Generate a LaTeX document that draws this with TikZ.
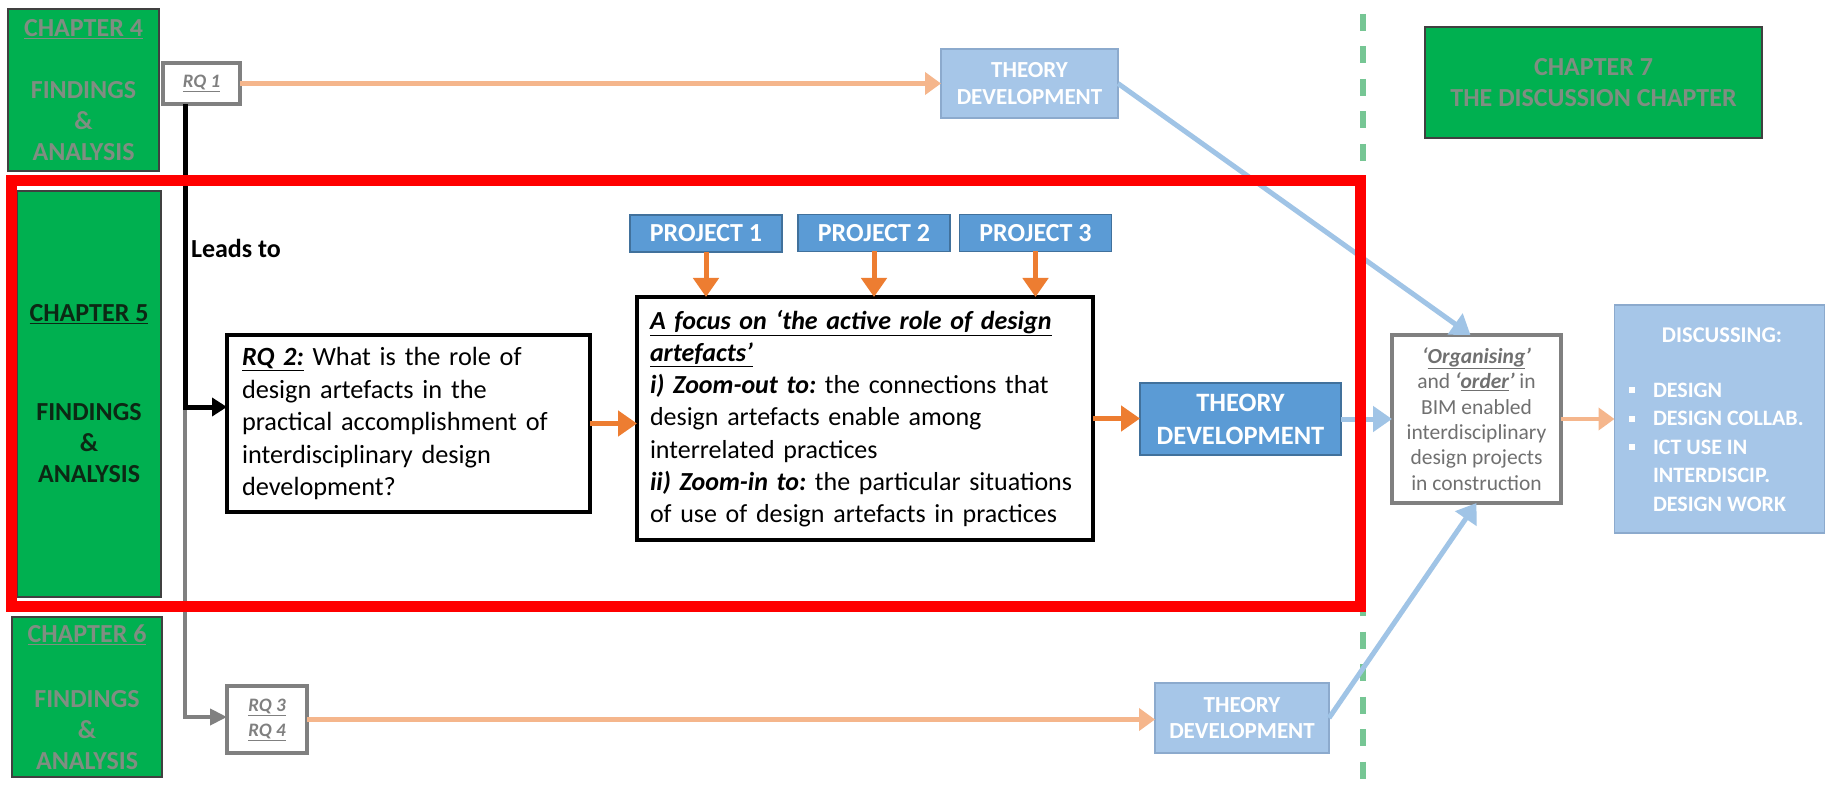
\documentclass[tikz,border=0pt]{standalone}
\usepackage{fontspec}
\setmainfont{Carlito}
\usetikzlibrary{arrows.meta}
\frenchspacing

\definecolor{chgreen}{HTML}{00B050}
\definecolor{fadetext}{RGB}{128,142,130}
\definecolor{chdark}{RGB}{12,40,20}
\definecolor{frame}{HTML}{FF0000}
\definecolor{projblue}{HTML}{5B9BD5}
\definecolor{projedge}{HTML}{41719C}
\definecolor{paleblue}{RGB}{166,198,232}
\definecolor{paleedge}{RGB}{140,170,205}
\definecolor{palearrow}{RGB}{160,196,230}
\definecolor{accent}{HTML}{ED7D31}
\definecolor{paleaccent}{RGB}{245,182,140}
\definecolor{rqgray}{RGB}{128,128,128}
\definecolor{orgtext}{RGB}{112,112,112}
\definecolor{divider}{RGB}{118,198,148}

\newcommand\discsq{\rule[4pt]{6pt}{6pt}}

\begin{document}
\begin{tikzpicture}[x=1pt,y=-1pt,
  every node/.style={inner sep=0pt, outer sep=0pt},
  chapter/.style={draw=black!75, line width=1.2pt, fill=chgreen, text=chdark, align=center,
    font=\fontsize{26}{31}\selectfont\bfseries},
  fadedchapter/.style={chapter, text=fadetext},
  rqbox/.style={draw=rqgray, line width=4pt, fill=white, text=rqgray, align=center,
    font=\fontsize{19}{25}\selectfont\bfseries\itshape},
  textbox/.style={draw=black, line width=4pt, fill=white, align=left, inner xsep=15pt,
    font=\fontsize{26.3}{32.5}\selectfont},
  project/.style={draw=projedge, line width=1.2pt, fill=projblue, text=white,
    minimum width=152pt, minimum height=37pt, font=\fontsize{26}{30}\selectfont\bfseries},
  theory/.style={draw=projedge, line width=1.2pt, fill=projblue, text=white, align=center,
    font=\fontsize{26.5}{33}\selectfont\bfseries},
  palebox/.style={draw=paleedge, line width=1.2pt, fill=paleblue, text=white, align=center,
    font=\fontsize{23}{26.5}\selectfont\bfseries},
  flow/.style={draw=accent, line width=5pt, -{Triangle[length=19pt,width=25pt]}},
  paleflow/.style={draw=paleaccent, line width=4.5pt, -{Triangle[length=16pt,width=22pt]}},
  blueflow/.style={draw=palearrow, line width=5pt, -{Triangle[length=19pt,width=25pt]}},
]
% canvas
\fill[white] (0,0) rectangle (1825,786);
\useasboundingbox (0,0) rectangle (1825,786);

% dashed divider before the discussion chapter
\draw[divider, line width=6pt, dash pattern=on 17pt off 15.5pt] (1363,14) -- (1363,786);

% chapter blocks
\node[fadedchapter, minimum width=151pt, minimum height=162pt] (ch4) at (83.5,90)
  {\underline{CHAPTER 4}\\[31pt]FINDINGS\\\&\\ANALYSIS};
\node[chapter, minimum width=144pt, minimum height=406pt] (ch5) at (89,394)
  {\underline{CHAPTER 5}\\[68pt]FINDINGS\\\&\\ANALYSIS};
\node[fadedchapter, minimum width=150pt, minimum height=160pt] (ch6) at (87,697)
  {\underline{CHAPTER 6}\\[34pt]FINDINGS\\\&\\ANALYSIS};
\node[fadedchapter, minimum width=337pt, minimum height=111pt] (ch7) at (1593.5,82.5)
  {CHAPTER 7\\THE DISCUSSION CHAPTER};

% research questions
\node[rqbox, minimum width=77pt, minimum height=41pt] (rq1) at (201.5,83.5) {\underline{RQ 1}};
\node[rqbox, minimum width=80pt, minimum height=67pt] (rq34) at (267,719.5)
  {\underline{RQ 3}\\\underline{RQ 4}};
\node[textbox, text width=333pt, minimum height=177pt] (rq2) at (408.5,423.5)
  {{\bfseries\itshape\underline{RQ 2:}} What is the role of\\
   design artefacts in the\\
   practical accomplishment of\\
   interdisciplinary design\\
   development?};

% projects feeding the focus
\node[project] (p1) at (706,233.5) {PROJECT 1};
\node[project] (p2) at (874,233) {PROJECT 2};
\node[project] (p3) at (1035.5,233) {PROJECT 3};

\node[textbox, text width=430pt, inner xsep=13pt, minimum height=243pt,
  font=\fontsize{26}{32.2}\selectfont] (focus) at (865,418.5)
  {{\bfseries\itshape\underline{A focus on ‘the active role of design}}\\
   {\bfseries\itshape\underline{artefacts’}}\\
   {\bfseries\itshape i) Zoom-out to:} the connections that\\
   design artefacts enable among\\
   interrelated practices\\
   {\bfseries\itshape ii) Zoom-in to:} the particular situations\\
   of use of design artefacts in practices};

% theory development
\node[theory, minimum width=201pt, minimum height=72pt] (td) at (1240.5,419)
  {THEORY\\DEVELOPMENT};
\node[palebox, minimum width=177pt, minimum height=69pt] (tdtop) at (1029.5,83.5)
  {THEORY\\DEVELOPMENT};
\node[palebox, minimum width=174pt, minimum height=70pt] (tdbot) at (1242,718)
  {THEORY\\DEVELOPMENT};

% synthesis and discussion
\node[draw=rqgray, line width=4pt, fill=white, text=orgtext, align=center,
  minimum width=169pt, minimum height=168pt, font=\fontsize{21.5}{25.3}\selectfont] (org) at (1476.5,419)
  {{\bfseries\itshape ‘\underline{Organising}’}\\
   and {\bfseries\itshape ‘\underline{order}’} in\\
   BIM enabled\\
   interdisciplinary\\
   design projects\\
   in construction};

\node[palebox, minimum width=210pt, minimum height=228pt] (disc) at (1719.5,419) {};
\node[text=white, font=\fontsize{22.5}{28}\selectfont\bfseries] (disctitle) at (1722,335) {DISCUSSING:};
\node[text=white, align=left, anchor=north west, font=\fontsize{22}{28.5}\selectfont\bfseries]
  (disclist) at (1629,383)
  {\makebox[24pt][l]{\discsq}DESIGN\\
   \makebox[24pt][l]{\discsq}DESIGN COLLAB.\\
   \makebox[24pt][l]{\discsq}ICT USE IN\\
   \hspace*{24pt}INTERDISCIP.\\
   \hspace*{24pt}DESIGN WORK};

% leads-to branch
\coordinate (split) at (185,407);
\coordinate (turn) at (185,717);
\node[anchor=west, font=\fontsize{26}{30}\selectfont\bfseries] (leads) at (191,248) {Leads to};
\draw[rqgray, line width=4pt, -{Triangle[length=17pt,width=16pt]}]
  (split) -- (turn) -- (turn -| rq34.west);
\draw[black, line width=5pt, line join=miter, -{Triangle[length=15pt,width=18pt]}]
  (rq1.south -| split) -- (split) -- (split -| rq2.west);

% flows
\draw[paleflow] (rq1.east) -- (tdtop.west);
\draw[paleflow] (rq34.east) -- (rq34.east -| tdbot.west);
\draw[flow] (rq2.east) -- (rq2.east -| focus.west);
\draw[flow] (p1.south) -- (p1.south |- focus.north);
\draw[flow] (p2.south) -- (p2.south |- focus.north);
\draw[flow] (p3.south) -- (p3.south |- focus.north);
\draw[flow] (focus.east) -- (focus.east -| td.west);
\draw[blueflow] (td.east) -- (td.east -| org.west);
\draw[blueflow] (tdtop.east) -- ([xshift=-6pt]org.north);
\draw[blueflow] (tdbot.east) -- (org.south);
\draw[paleflow] (org.east) -- (org.east -| disc.west);

% highlighted chapter frame
\draw[frame, line width=11pt] (11,181) rectangle (1360,606);
\end{tikzpicture}
\end{document}
